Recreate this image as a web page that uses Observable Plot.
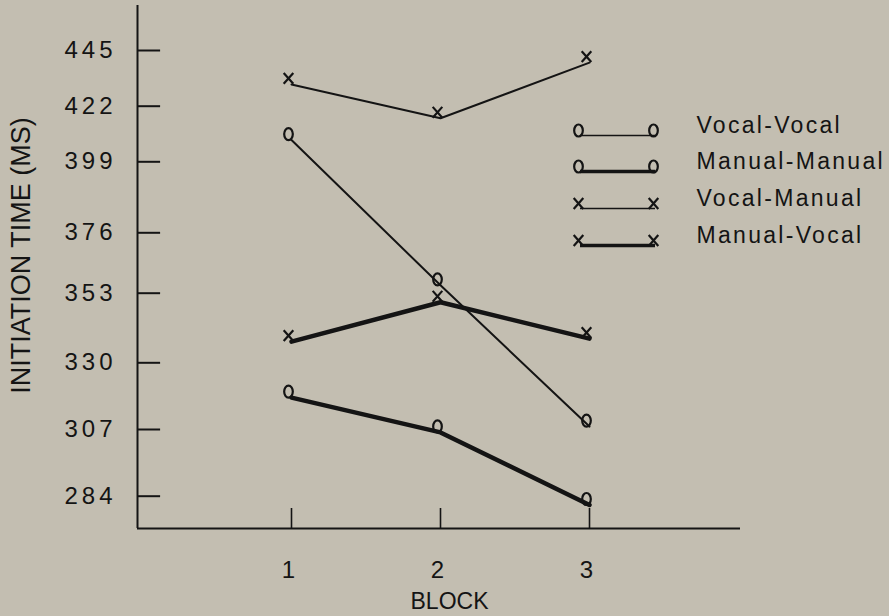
<!DOCTYPE html>
<html><head><meta charset="utf-8">
<script src="https://cdn.jsdelivr.net/npm/d3@7"></script>
<script src="https://cdn.jsdelivr.net/npm/@observablehq/plot@0.6"></script>
<style>
html,body{margin:0;padding:0;background:#c3beb1;}
#chart svg{display:block;}
</style></head><body><div id="chart"></div>
<script>
// ---- data ----
const blocks = [1, 2, 3];
const vocalVocal   = [408, 356, 308];
const manualManual = [318, 306, 281];
const vocalManual  = [431, 417, 440];
const manualVocal  = [337, 350, 338];
const seriesNames  = ["Vocal-Vocal", "Manual-Manual", "Vocal-Manual", "Manual-Vocal"];
const yTickValues  = [284, 307, 330, 353, 376, 399, 422, 445];
const xTickValues  = [1, 2, 3];
const xLabel = "BLOCK";
const yLabel = "INITIATION TIME (MS)";

// ---- styles / layout ----
const seriesValues = [vocalVocal, manualManual, vocalManual, manualVocal];
const seriesMarker = ["o", "o", "x", "x"];
const seriesWidth  = [2, 4.5, 2, 4.5];
const ink = "#141414";
const font = "'Liberation Sans', Arial, Helvetica, sans-serif";

// hand-drawn (uneven) axes: piecewise scales
const yDomain = [273, ...yTickValues, 464];
const yRange  = [528, 495.7, 429, 362.3, 292.7, 232.3, 161.3, 105.7, 50, 5];
const xDomain = [0, 1, 2, 3, 4];
const xRange  = [137, 291, 440, 589, 740];
const yPix = d3.scaleLinear().domain(yDomain).range(yRange);
const xPix = d3.scaleLinear().domain(xDomain).range(xRange);

const rows = seriesNames.flatMap((name, i) =>
  blocks.map((b, j) => ({series: name, block: b, value: seriesValues[i][j]})));

// marker shapes
const ellipse = {draw(ctx, size) {
  const r = Math.sqrt(size / Math.PI), rx = r * 0.72, ry = r, k = 0.5523;
  ctx.moveTo(rx, 0);
  ctx.bezierCurveTo(rx, ry * k, rx * k, ry, 0, ry);
  ctx.bezierCurveTo(-rx * k, ry, -rx, ry * k, -rx, 0);
  ctx.bezierCurveTo(-rx, -ry * k, -rx * k, -ry, 0, -ry);
  ctx.bezierCurveTo(rx * k, -ry, rx, -ry * k, rx, 0);
  ctx.closePath();
}};
const cross = {draw(ctx, size) {
  const r = Math.sqrt(size / Math.PI), w = r * 0.8, h = r * 0.9;
  ctx.moveTo(-w, -h); ctx.lineTo(w, h);
  ctx.moveTo(-w, h); ctx.lineTo(w, -h);
}};
const symbolOf = m => m === "o" ? ellipse : cross;

// legend layout (pixel rows converted to data space)
const legendLineY = [135, 171, 208, 245];
const legendRows = seriesNames.map((name, i) => ({
  name, i,
  y: yPix.invert(legendLineY[i]),
  yText: yPix.invert(legendLineY[i] - 9.4),
  x1: xPix.invert(580), x2: xPix.invert(655), xt: xPix.invert(696)
}));

const yBottom = yDomain[0], yTop = yDomain[yDomain.length - 1];
const marks = [
  // axes
  Plot.ruleX([0], {y1: yBottom, y2: yTop, stroke: ink, strokeWidth: 2}),
  Plot.ruleY([yBottom], {x1: 0, x2: 4, stroke: ink, strokeWidth: 2}),
  Plot.ruleY(yTickValues, {y: d => d, x1: 0, x2: 0.15, stroke: ink, strokeWidth: 2}),
  Plot.ruleX(xTickValues, {x: d => d, y1: yBottom, y2: yPix.invert(508), stroke: ink, strokeWidth: 1.6}),
  Plot.text(yTickValues, {x: 0, y: d => d, text: d => String(d), textAnchor: "end", dx: -21,
    fontSize: 24, fill: ink}),
  Plot.text(xTickValues, {x: d => d, y: yBottom, text: d => String(d), dx: -3, dy: 42,
    fontSize: 24, fill: ink}),
  Plot.text([xLabel], {x: 2, y: yBottom, text: d => d, dx: 9, dy: 73.5, fontSize: 23, fill: ink}),
  Plot.text([yLabel], {frameAnchor: "top-left", text: d => d, dx: 21, dy: 255, rotate: -90,
    textAnchor: "middle", lineAnchor: "middle", fontSize: 27, fill: ink})
];

seriesNames.forEach((name, i) => {
  const data = rows.filter(r => r.series === name);
  marks.push(Plot.line(data, {x: "block", y: "value", stroke: ink, strokeWidth: seriesWidth[i],
    strokeLinejoin: "round", strokeLinecap: "round"}));
  marks.push(Plot.dot(data, {x: "block", y: "value", symbol: symbolOf(seriesMarker[i]), r: 6,
    fill: "none", stroke: ink, strokeWidth: 2.2, dx: -3, dy: -6}));
});

// legend
legendRows.forEach(row => {
  const i = row.i;
  marks.push(Plot.ruleY([row], {y: "y", x1: "x1", x2: "x2", stroke: ink, strokeWidth: seriesWidth[i] * 0.8}));
  marks.push(Plot.dot([row, row], {x: (d, j) => j === 0 ? d.x1 : d.x2, y: "y",
    symbol: symbolOf(seriesMarker[i]), r: 6, fill: "none", stroke: ink, strokeWidth: 2.2, dx: -2, dy: -5}));
});
marks.push(Plot.text(legendRows, {x: "xt", y: "yText", text: "name", textAnchor: "start",
  fontSize: 23, fill: ink}));

const svg = Plot.plot({
  width: 889, height: 616,
  marginTop: 0, marginRight: 0, marginBottom: 0, marginLeft: 0,
  style: {background: "#c3beb1", fontFamily: font, color: ink},
  x: {type: "linear", domain: xDomain, range: xRange, axis: null},
  y: {type: "linear", domain: yDomain, range: yRange, axis: null},
  marks
});
const tickSet = new Set(yTickValues.map(String));
const nameSet = new Set(seriesNames);
d3.select(svg).selectAll("text").each(function() {
  const t = this.textContent;
  if (tickSet.has(t)) this.style.letterSpacing = "4px";
  else if (nameSet.has(t)) this.style.letterSpacing = "2.3px";
});
document.getElementById("chart").appendChild(svg);
</script></body></html>
